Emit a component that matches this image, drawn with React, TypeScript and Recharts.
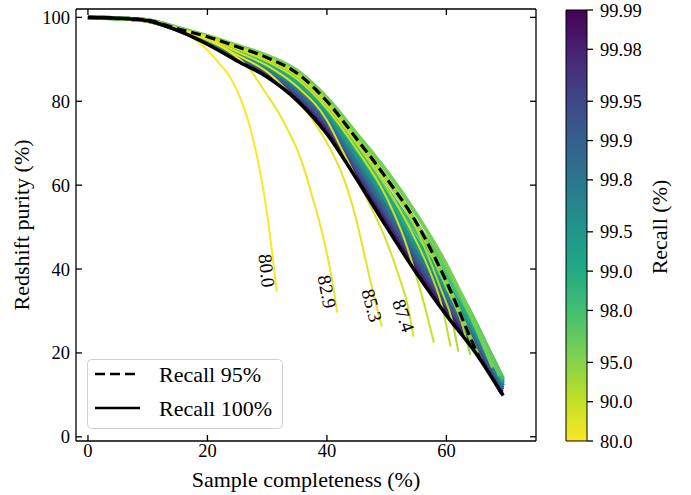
import React from "react";
import { ComposedChart, Line, XAxis, YAxis, ReferenceArea } from "recharts";

const FONT = "'Liberation Serif', 'Times New Roman', serif";

// axis ticks
const X_TICKS = [0, 20, 40, 60];
const Y_TICKS = [0, 20, 40, 60, 80, 100];
const CBAR_TICKS = [80.0, 90.0, 95.0, 98.0, 99.0, 99.5, 99.8, 99.9, 99.95, 99.98, 99.99];
const CBAR_LABELS = ["80.0", "90.0", "95.0", "98.0", "99.0", "99.5", "99.8", "99.9", "99.95", "99.98", "99.99"];

// [completeness %, purity %]
const CURVE_100 = [[0, 100], [5, 99.8], [10, 99.2], [15, 96.9], [20, 93.6], [25, 89.6], [30, 85.8], [35, 80.2], [40, 72.2], [45, 61.4], [50, 50.0], [55, 39.0], [60, 29.0], [65, 19.8], [69.5, 9.8]];
const CURVE_99_99 = [[0, 100], [5, 99.8], [10, 99.2], [15, 97.0], [20, 93.8], [25, 89.8], [30, 86.1], [35, 80.6], [40, 72.8], [45, 62.0], [50, 50.8], [55, 39.8], [60, 29.8], [65, 20.5], [69.3, 10.3]];
const CURVE_99_98 = [[0, 100], [5, 99.8], [10, 99.2], [15, 97.0], [20, 93.9], [25, 90.0], [30, 86.5], [35, 81.1], [40, 73.5], [45, 62.7], [50, 51.6], [55, 40.6], [60, 30.6], [65, 21.2], [69.3, 10.7]];
const CURVE_99_95 = [[0, 100], [5, 99.8], [10, 99.2], [15, 97.1], [20, 94.1], [25, 90.3], [30, 86.9], [35, 81.7], [40, 74.3], [45, 63.6], [50, 52.6], [55, 41.6], [60, 31.6], [65, 22.0], [69.4, 11.2]];
const CURVE_99_9 = [[0, 100], [5, 99.8], [10, 99.2], [15, 97.1], [20, 94.2], [25, 90.6], [30, 87.3], [35, 82.3], [40, 75.1], [45, 64.6], [50, 53.7], [55, 42.8], [60, 32.7], [65, 22.8], [69.4, 11.7]];
const CURVE_99_8 = [[0, 100], [5, 99.8], [10, 99.2], [15, 97.2], [20, 94.4], [25, 90.9], [30, 87.7], [35, 83.0], [40, 76.0], [45, 65.6], [50, 54.9], [55, 44.0], [60, 33.9], [65, 23.6], [69.5, 12.2]];
const CURVE_99_5 = [[0, 100], [5, 99.8], [10, 99.3], [15, 97.3], [20, 94.6], [25, 91.3], [30, 88.2], [35, 83.7], [40, 77.0], [45, 66.8], [50, 56.2], [55, 45.4], [60, 35.2], [65, 24.5], [69.5, 12.8]];
const CURVE_99_0 = [[0, 100], [5, 99.8], [10, 99.3], [15, 97.4], [20, 94.9], [25, 91.8], [30, 88.8], [35, 84.5], [40, 78.0], [45, 68.1], [50, 57.7], [55, 47.0], [60, 36.7], [65, 25.5], [69.5, 13.3]];
const CURVE_98_0 = [[0, 100], [5, 99.8], [10, 99.3], [15, 97.5], [20, 95.2], [25, 92.3], [30, 89.6], [35, 85.5], [40, 79.1], [45, 69.5], [50, 59.3], [55, 48.8], [60, 38.4], [65, 26.5], [69.5, 13.8]];
const CURVE_97_0 = [[0, 100], [5, 99.8], [10, 99.3], [15, 97.5], [20, 95.5], [25, 92.9], [30, 90.3], [35, 86.4], [40, 80.2], [45, 71.0], [50, 61.2], [55, 50.8], [60, 40.0], [65, 27.0], [69.0, 14.5]];
const CURVE_96_0 = [[0, 100], [5, 99.8], [10, 99.3], [15, 97.5], [20, 95.6], [25, 93.3], [30, 90.9], [35, 87.3], [40, 80.8], [45, 72.2], [50, 63.3], [55, 53.0], [60, 41.0], [65, 26.0], [67.8, 16.5]];
const CURVE_95_0 = [[0, 100], [5, 99.8], [10, 99.3], [15, 97.3], [20, 95.4], [25, 93.0], [30, 90.4], [35, 86.7], [40, 80.0], [45, 71.0], [50, 61.6], [55, 51.0], [60, 37.0], [65, 20.5], [65.7, 18.4]];
const CURVE_93_5 = [[0, 100], [5, 99.8], [10, 99.3], [15, 97.4], [20, 95.5], [25, 93.1], [30, 90.5], [35, 86.8], [40, 80.0], [45, 71.0], [50, 61.5], [55, 50.5], [60, 35.5], [62.5, 27.5], [64.0, 19.5]];
const CURVE_92_2 = [[0, 100], [5, 99.8], [10, 99.3], [15, 97.4], [20, 95.5], [25, 93.0], [30, 90.3], [35, 86.5], [40, 79.6], [45, 70.5], [50, 60.8], [55, 49.5], [59, 35.5], [61, 27.5], [62.0, 20.3]];
const CURVE_90_8 = [[0, 100], [5, 99.8], [10, 99.3], [15, 97.4], [20, 95.4], [25, 92.8], [30, 90.0], [35, 86.0], [40, 79.0], [45, 69.8], [50, 59.5], [55, 46.5], [57.5, 38.5], [59.2, 31.5], [60.7, 21.5]];
const CURVE_89_3 = [[0, 100], [5, 99.8], [10, 99.3], [15, 97.4], [20, 95.3], [25, 92.5], [30, 89.5], [35, 85.3], [40, 78.2], [45, 68.5], [50, 57.0], [53, 47.0], [54.8, 39.0], [56.5, 30.5], [57.9, 22.4]];
const CURVE_87_4 = [[0, 100], [5, 99.8], [10, 99.3], [15, 97.3], [20, 95.0], [25, 91.8], [30, 88.5], [35, 83.5], [40, 75.5], [42.5, 68.5], [45, 61.5], [47.3, 55.0], [50, 46.5], [52, 38.5], [53.5, 31.5], [54.5, 23.9]];
const CURVE_85_3 = [[0, 100], [5, 99.8], [10, 99.3], [15, 97.2], [20, 94.6], [25, 91.0], [30, 87.0], [35, 80.0], [37, 76.8], [39, 72.5], [40.8, 68.0], [42.5, 62.8], [44, 56.5], [45.3, 49.5], [46.5, 42.0], [47.8, 34.0], [49.2, 26.3]];
const CURVE_82_9 = [[0, 100], [5, 99.8], [10, 99.3], [15, 97.3], [20, 95.0], [24, 91.5], [26.9, 88.0], [29.5, 82.5], [31.9, 77.3], [33.6, 72.8], [35.3, 67.5], [36.5, 62.5], [37.5, 57.5], [38.7, 51.5], [39.8, 45.0], [40.8, 38.0], [41.7, 29.6]];
const CURVE_80_0 = [[0, 100], [5, 99.6], [10, 98.9], [13, 98.0], [15.5, 96.6], [17.4, 95.2], [20, 92.2], [22, 89.0], [23.6, 86.2], [25, 82.5], [26.1, 78.5], [27.0, 74.5], [27.8, 70.0], [28.5, 65.5], [29.1, 61.0], [29.8, 55.0], [30.3, 50.0], [30.9, 43.0], [31.6, 34.6]];

// drawn from highest recall to lowest, so the yellow ones sit on top
const CURVES = [
  { recall: 99.99, points: CURVE_99_99 },
  { recall: 99.98, points: CURVE_99_98 },
  { recall: 99.95, points: CURVE_99_95 },
  { recall: 99.9, points: CURVE_99_9 },
  { recall: 99.8, points: CURVE_99_8 },
  { recall: 99.5, points: CURVE_99_5 },
  { recall: 99.0, points: CURVE_99_0 },
  { recall: 98.0, points: CURVE_98_0 },
  { recall: 97.0, points: CURVE_97_0 },
  { recall: 96.0, points: CURVE_96_0 },
  { recall: 95.0, points: CURVE_95_0 },
  { recall: 93.5, points: CURVE_93_5 },
  { recall: 92.2, points: CURVE_92_2 },
  { recall: 90.8, points: CURVE_90_8 },
  { recall: 89.3, points: CURVE_89_3 },
  { recall: 87.4, points: CURVE_87_4, label: "87.4", angle: 71 },
  { recall: 85.3, points: CURVE_85_3, label: "85.3", angle: 75 },
  { recall: 82.9, points: CURVE_82_9, label: "82.9", angle: 79 },
  { recall: 80.0, points: CURVE_80_0, label: "80.0", angle: 84 },
];

const VIRIDIS = ["#440154", "#482475", "#414487", "#355f8d", "#2a788e", "#21918c", "#22a884", "#44bf70", "#7ad151", "#bddf26", "#fde725"];

function viridis(t: number) {
  const s = Math.max(0, Math.min(1, t)) * 10;
  const i = Math.min(9, Math.floor(s));
  const f = s - i;
  const a = VIRIDIS[i], b = VIRIDIS[i + 1];
  const ch = (h: string, k: number) => parseInt(h.slice(1 + 2 * k, 3 + 2 * k), 16);
  const c = [0, 1, 2].map((k) => Math.round(ch(a, k) + (ch(b, k) - ch(a, k)) * f));
  return `rgb(${c[0]},${c[1]},${c[2]})`;
}

// colour scale is logarithmic in (100 - recall), from 80 to 99.99
const cbarPos = (r: number) => -Math.log10(100 - r);
const CB_MIN = cbarPos(80);
const CB_MAX = cbarPos(99.99);
const recallColor = (r: number) => viridis(1 - (cbarPos(r) - CB_MIN) / (CB_MAX - CB_MIN));

const toRows = (pts: number[][]) => pts.map(([c, p]) => ({ c, p }));

const curveLabel = (text: string, angle: number, last: number) => (props: any) => {
  if (props.index !== last) return null;
  const cx = props.x - 10;
  const cy = props.y - 21;
  return (
    <text x={cx} y={cy} transform={`rotate(${angle} ${cx} ${cy})`} textAnchor="middle"
      dominantBaseline="central" fontFamily={FONT} fontSize={19} fill="#000">
      {text}
    </text>
  );
};

// matplotlib-style inward ticks
const TICK_LEN = 6;
const X_GAP = 3;
const Y_GAP = 6;
const TICK_FONT = 18.5;

const BottomTick = (props: any) => {
  const { x, y, payload } = props;
  const axisY = y - X_GAP;
  return (
    <g>
      <line x1={x} y1={axisY} x2={x} y2={axisY - TICK_LEN} stroke="#000" strokeWidth={1.3} />
      <text x={x} y={y} dy="0.71em" textAnchor="middle" fontFamily={FONT} fontSize={TICK_FONT} fill="#000">
        {payload.value}
      </text>
    </g>
  );
};

const LeftTick = (props: any) => {
  const { x, y, payload } = props;
  const axisX = x + Y_GAP;
  return (
    <g>
      <line x1={axisX} y1={y} x2={axisX + TICK_LEN} y2={y} stroke="#000" strokeWidth={1.3} />
      <text x={x} y={y} dy="0.355em" textAnchor="end" fontFamily={FONT} fontSize={TICK_FONT} fill="#000">
        {payload.value}
      </text>
    </g>
  );
};

const TopTick = (props: any) => (
  <line x1={props.x} y1={props.y} x2={props.x} y2={props.y + TICK_LEN} stroke="#000" strokeWidth={1.3} />
);

const RightTick = (props: any) => (
  <line x1={props.x} y1={props.y} x2={props.x - TICK_LEN} y2={props.y} stroke="#000" strokeWidth={1.3} />
);

export default function App() {
  return (
    <div style={{ position: "absolute", left: 0, top: 0, width: 691, height: 495, background: "#fff" }}>
      <div style={{ position: "absolute", left: 0, top: 0 }}>
        <ComposedChart width={560} height={495} margin={{ top: 8, right: 23, bottom: 0, left: 0 }}>
          <XAxis type="number" dataKey="c" domain={[-2, 75]} allowDataOverflow ticks={X_TICKS} interval={0}
            height={54} tickSize={0} tickMargin={X_GAP} tickLine={false} stroke="#000" strokeWidth={1.3}
            tick={<BottomTick />} />
          <XAxis xAxisId="top" orientation="top" type="number" dataKey="c" domain={[-2, 75]} allowDataOverflow
            ticks={X_TICKS} interval={0} height={1} tickSize={0} tickMargin={0} tickLine={false}
            stroke="#000" strokeWidth={1.3} tick={<TopTick />} />
          <YAxis type="number" domain={[-1, 102]} allowDataOverflow ticks={Y_TICKS} interval={0}
            width={76} tickSize={0} tickMargin={Y_GAP} tickLine={false} stroke="#000" strokeWidth={1.3}
            tick={<LeftTick />} />
          <YAxis yAxisId="right" orientation="right" type="number" domain={[-1, 102]} allowDataOverflow
            ticks={Y_TICKS} interval={0} width={1} tickSize={0} tickMargin={0} tickLine={false}
            stroke="#000" strokeWidth={1.3} tick={<RightTick />} />
          {CURVES.map((cv) => (
            <Line key={cv.recall} data={toRows(cv.points)} dataKey="p" type="monotone"
              stroke={recallColor(cv.recall)} strokeWidth={cv.recall >= 94 ? 4 : 2}
              strokeLinejoin="round" dot={false} activeDot={false} isAnimationActive={false}
              label={cv.label ? curveLabel(cv.label, cv.angle as number, cv.points.length - 1) : undefined} />
          ))}
          <Line data={toRows(CURVE_100)} dataKey="p" type="monotone" stroke="#000" strokeWidth={3.5}
            dot={false} activeDot={false} isAnimationActive={false} />
          <Line data={toRows(CURVE_95_0)} dataKey="p" type="monotone" stroke="#000" strokeWidth={3.2}
            strokeDasharray="10 5" dot={false} activeDot={false} isAnimationActive={false} />
        </ComposedChart>
      </div>

      <div style={{ position: "absolute", left: 560, top: 0 }}>
        <ComposedChart width={131} height={495} margin={{ top: 10, right: 0, bottom: 54, left: 6 }}
          data={[{ x: 0 }, { x: 1 }]}>
          <defs>
            <linearGradient id="cbar" x1="0" y1="0" x2="0" y2="1">
              {VIRIDIS.map((c, i) => (
                <stop key={i} offset={`${i * 10}%`} stopColor={c} />
              ))}
            </linearGradient>
          </defs>
          <XAxis type="number" dataKey="x" domain={[0, 1]} hide />
          <YAxis orientation="right" type="number" domain={[CB_MIN, CB_MAX]} allowDataOverflow
            ticks={CBAR_TICKS.map(cbarPos)} interval={0} width={104} tickSize={6} tickMargin={7}
            axisLine={false} tickLine={{ stroke: "#000", strokeWidth: 1.3 }}
            tickFormatter={(v: number) => {
              const i = CBAR_TICKS.findIndex((r) => Math.abs(cbarPos(r) - v) < 1e-6);
              return i >= 0 ? CBAR_LABELS[i] : "";
            }}
            tick={{ fill: "#000", fontSize: TICK_FONT, fontFamily: FONT }} />
          <ReferenceArea x1={0} x2={1} y1={CB_MIN} y2={CB_MAX} fill="url(#cbar)" fillOpacity={1}
            stroke="#000" strokeWidth={1} />
        </ComposedChart>
      </div>

      <svg width={691} height={495} style={{ position: "absolute", left: 0, top: 0, pointerEvents: "none" }}>
        <text x={306} y={487} textAnchor="middle" fontFamily={FONT} fontSize={22} fill="#000">
          Sample completeness (%)
        </text>
        <text x={29} y={225} transform="rotate(-90 29 225)" textAnchor="middle" fontFamily={FONT} fontSize={22} fill="#000">
          Redshift purity (%)
        </text>
        <text x={667} y={227} transform="rotate(-90 667 227)" textAnchor="middle" fontFamily={FONT} fontSize={22} fill="#000">
          Recall (%)
        </text>
        <g>
          <rect x={87.5} y={359.5} width={195} height={69} rx={4} fill="#fff" fillOpacity={0.8} stroke="#d0d0d0" />
          <line x1={95} y1={374} x2={140} y2={374} stroke="#000" strokeWidth={2.7} strokeDasharray="10 5" />
          <text x={159} y={382} fontFamily={FONT} fontSize={22} fill="#000">Recall 95%</text>
          <line x1={95} y1={408} x2={140} y2={408} stroke="#000" strokeWidth={2.7} />
          <text x={159} y={416} fontFamily={FONT} fontSize={22} fill="#000">Recall 100%</text>
        </g>
      </svg>
    </div>
  );
}
